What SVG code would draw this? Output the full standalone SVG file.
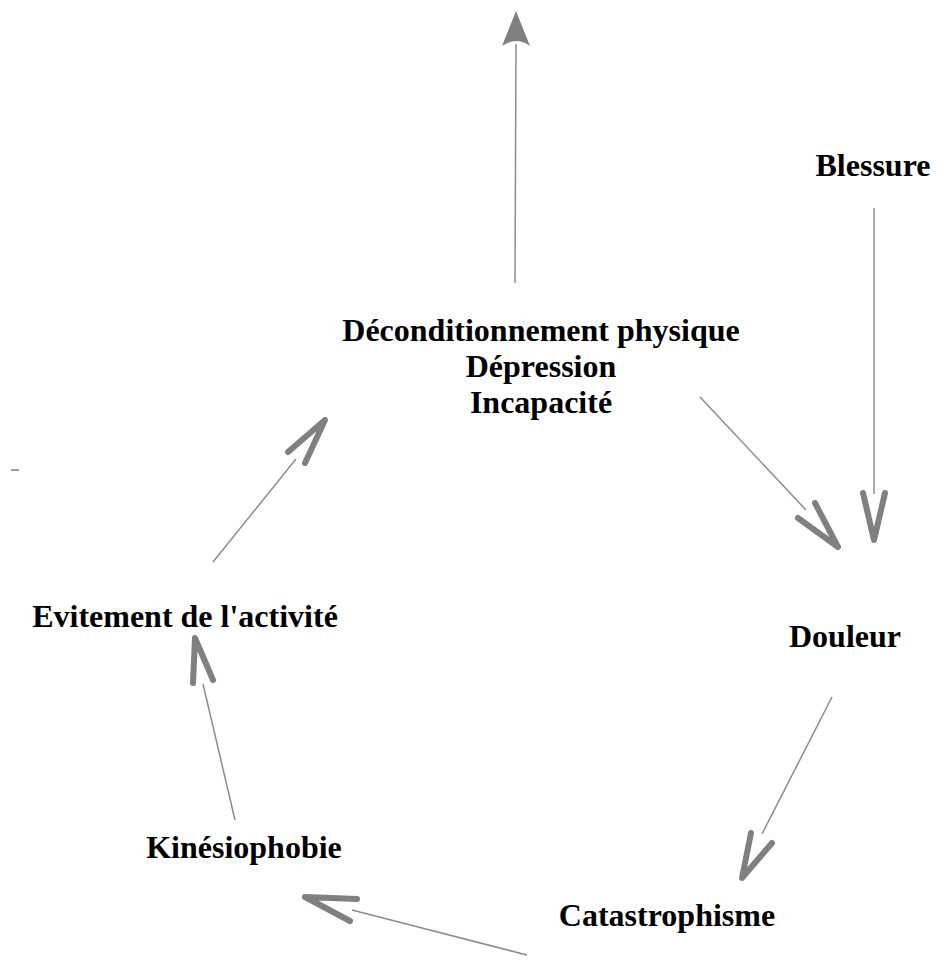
<svg xmlns="http://www.w3.org/2000/svg" width="938" height="967" viewBox="0 0 938 967">
  <style>
    .label { font-family: "Liberation Serif", "Times New Roman", serif; font-weight: bold; font-size: 32px; fill: #000; text-anchor: middle; }
    .wire { stroke: #8c8c8c; stroke-width: 1.5; fill: none; }
    .head { stroke: #808080; stroke-width: 6; stroke-linecap: round; stroke-linejoin: round; fill: none; }
    .solid { fill: #808080; stroke: none; }
  </style>
  <rect width="938" height="967" fill="#fff"/>

  <g id="connectors">
    <!-- upward arrow out of the top node -->
    <line class="wire" x1="515" y1="283" x2="516" y2="44"/>
    <path class="solid" d="M516,11 L530,46 Q516,36 502,46 Z"/>

    <!-- Blessure -> Douleur -->
    <line class="wire" x1="874" y1="208" x2="874" y2="494"/>
    <polyline class="head" points="863,493 874,540 885,493"/>

    <!-- Incapacité -> Douleur -->
    <line class="wire" x1="700" y1="397" x2="806" y2="510"/>
    <polyline class="head" points="798,518 838,547 815,503"/>

    <!-- Douleur -> Catastrophisme -->
    <line class="wire" x1="832" y1="697" x2="762" y2="834"/>
    <polyline class="head" points="751,833 742,878 772,843"/>

    <!-- Catastrophisme -> Kinésiophobie -->
    <line class="wire" x1="527" y1="955" x2="352" y2="910"/>
    <polyline class="head" points="357,899 305,897 350,921"/>

    <!-- Kinésiophobie -> Evitement de l'activité -->
    <line class="wire" x1="235" y1="820" x2="203" y2="684"/>
    <polyline class="head" points="193,683 195,638 213,680"/>

    <!-- Evitement de l'activité -> Déconditionnement -->
    <line class="wire" x1="213" y1="562" x2="296" y2="459"/>
    <polyline class="head" points="288,452 325,420 305,463"/>

    <!-- stray tick on the left margin -->
    <line x1="11" y1="470" x2="19" y2="470" stroke="#808080" stroke-width="1.5"/>
  </g>

  <g id="blessure">
    <text class="label" x="873" y="176">Blessure</text>
  </g>
  <g id="deconditionnement">
    <text class="label" x="541" y="341">Déconditionnement physique</text>
    <text class="label" x="541" y="377">Dépression</text>
    <text class="label" x="541" y="413">Incapacité</text>
  </g>
  <g id="douleur">
    <text class="label" x="845" y="647">Douleur</text>
  </g>
  <g id="catastrophisme">
    <text class="label" x="667" y="926">Catastrophisme</text>
  </g>
  <g id="kinesiophobie">
    <text class="label" x="244" y="858">Kinésiophobie</text>
  </g>
  <g id="evitement">
    <text class="label" x="185" y="627">Evitement de l'activité</text>
  </g>
</svg>
